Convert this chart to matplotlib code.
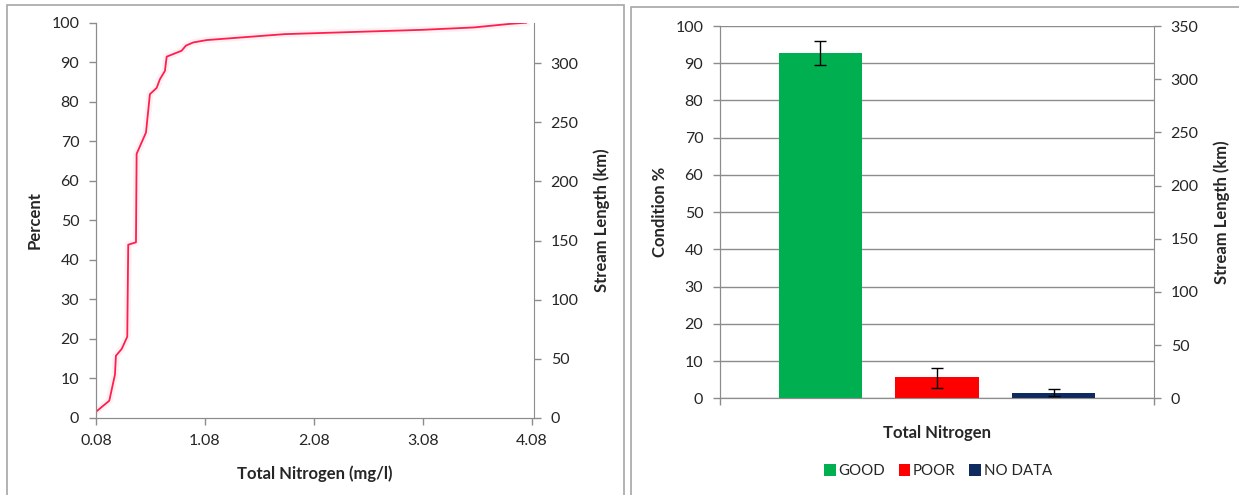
import matplotlib
matplotlib.use("Agg")
import matplotlib.pyplot as plt
from matplotlib.patches import Rectangle, Patch
import numpy as np

plt.rcParams['font.family'] = ['Lato', 'DejaVu Sans']
plt.rcParams['font.size'] = 11

# cumulative distribution of total nitrogen
tn_conc = [0.08, 0.202, 0.254, 0.263, 0.316, 0.367, 0.376, 0.447, 0.453, 0.539,
           0.575, 0.637, 0.667, 0.713, 0.729, 0.866, 0.906, 0.973, 1.096, 1.81,
           3.08, 3.55, 3.88, 4.03]
tn_pct = [1.5, 4.3, 10.9, 15.7, 17.4, 20.5, 43.8, 44.4, 66.8, 72.2,
          81.9, 83.5, 85.7, 87.8, 91.4, 92.9, 94.2, 95.0, 95.6, 97.1,
          98.2, 98.8, 99.7, 100.0]
total_length_km = 334.4

# condition classes
classes = ['GOOD', 'POOR', 'NO DATA']
cond_pct = [92.7, 5.7, 1.5]
cond_lo = [89.4, 2.9, 0.6]
cond_hi = [96.0, 8.2, 2.4]
class_colors = ['#00B050', '#FF0000', '#0F2A5E']

W, H = 1239, 495
fig = plt.figure(figsize=(W / 100, H / 100), dpi=100)
grey = '#8C8C8C'
text_c = '#262626'


def fx(px):
    return px / W


def fy(py):
    return 1 - py / H


# panel frames
fig.patches.append(Rectangle((fx(7), fy(520)), fx(624 - 7), (520 - 4.7) / H,
                             transform=fig.transFigure, fill=False,
                             edgecolor='#A6A6A6', lw=1.2))
fig.patches.append(Rectangle((fx(631), fy(520)), fx(700), (520 - 7) / H,
                             transform=fig.transFigure, fill=False,
                             edgecolor='#A6A6A6', lw=1.2))


def style_axes(ax, ax2):
    for a in (ax, ax2):
        for s in a.spines.values():
            s.set_color(grey)
        a.spines['top'].set_visible(False)
        a.tick_params(colors=grey, labelcolor=text_c, length=5, width=1,
                      pad=7, labelsize=11.5)
    ax.spines['right'].set_visible(False)


lab = dict(fontweight='bold', color=text_c, fontsize=12)

# left: CDF
ax1 = fig.add_axes([fx(96), fy(417.7), fx(534 - 96), (417.7 - 22.7) / H])
ax1r = ax1.twinx()
ax1.plot(tn_conc, tn_pct, color='#FF8AA6', lw=5, alpha=0.12,
         solid_joinstyle='round')
ax1.plot(tn_conc, tn_pct, color='#FF1E4C', lw=1.3)
ax1.set_xlim(0.08, 4.102)
ax1.set_ylim(0, 100)
ax1.set_xticks([0.08, 1.08, 2.08, 3.08, 4.08])
ax1.set_xticklabels(['0.08', '1.08', '2.08', '3.08', '4.08'])
ax1.set_yticks(range(0, 101, 10))
ax1r.set_ylim(0, total_length_km)
ax1r.set_yticks(range(0, 301, 50))
style_axes(ax1, ax1r)
ax1.set_xlabel('Total Nitrogen (mg/l)', **lab)
ax1.set_ylabel('Percent', **lab)
ax1r.set_ylabel('Stream Length (km)', **lab)
ax1.xaxis.set_label_coords(0.5, -0.122)
ax1.yaxis.set_label_coords(-0.123, 0.5)
ax1r.yaxis.set_label_coords(1.135, 0.5)

# right: condition classes
ax2 = fig.add_axes([fx(720), fy(398.3), fx(1154 - 720), (398.3 - 26) / H])
ax2r = ax2.twinx()
xpos = [0.231, 0.5, 0.769]
err = [np.subtract(cond_pct, cond_lo), np.subtract(cond_hi, cond_pct)]
ax2.bar(xpos, cond_pct, width=0.192, color=class_colors, zorder=3)
ax2.errorbar(xpos, cond_pct, yerr=err, fmt='none', ecolor='black',
             elinewidth=1, capsize=4, capthick=1, zorder=4)
ax2.set_xlim(0, 1)
ax2.set_ylim(0, 100)
ax2.set_yticks(range(0, 101, 10))
ax2.yaxis.grid(True, color=grey, lw=1)
ax2.set_axisbelow(True)
ax2.set_xticks([0, 1])
ax2.set_xticklabels([])
ax2r.set_ylim(0, 350)
ax2r.set_yticks(range(0, 351, 50))
style_axes(ax2, ax2r)
ax2.set_xlabel('Total Nitrogen', **lab)
ax2.set_ylabel('Condition %', **lab)
ax2r.set_ylabel('Stream Length (km)', **lab)
ax2.xaxis.set_label_coords(0.5, -0.072)
ax2.yaxis.set_label_coords(-0.12, 0.5)
ax2r.yaxis.set_label_coords(1.136, 0.5)

handles = [Patch(facecolor=c, edgecolor='none') for c in class_colors]
fig.legend(handles, classes, loc='center', bbox_to_anchor=(fx(938), fy(471)),
           ncol=3, frameon=False, handlelength=0.75, handleheight=0.8,
           handletextpad=0.2, columnspacing=0.9, fontsize=10.8,
           labelcolor=text_c)

fig.savefig('out.png', dpi=100)
